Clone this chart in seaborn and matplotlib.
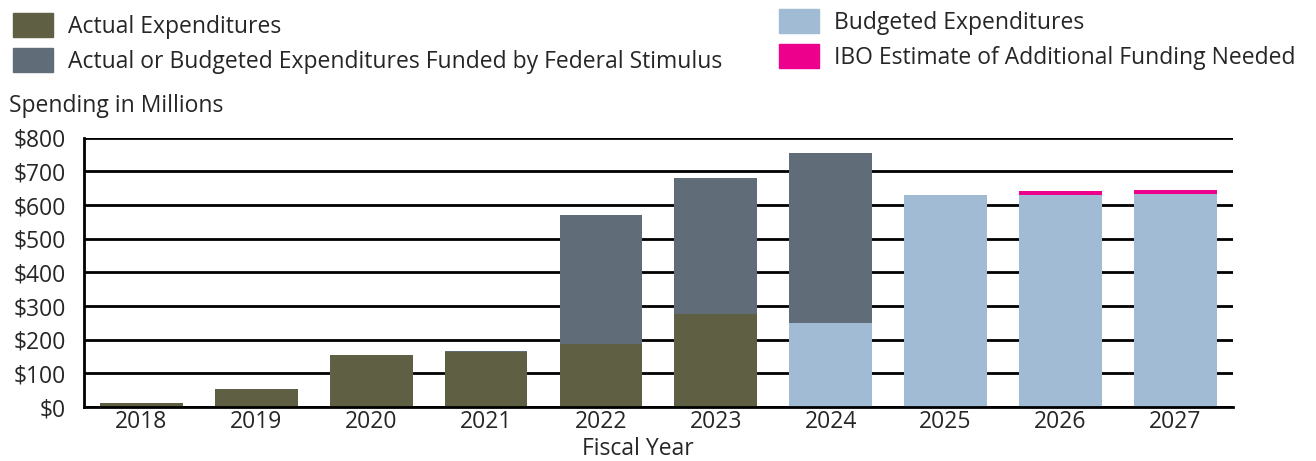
import pandas as pd
import matplotlib.pyplot as plt
import seaborn as sns
from matplotlib.patches import Patch
from matplotlib.ticker import FixedLocator, FuncFormatter

# Values (millions of dollars)
years = ["2018", "2019", "2020", "2021", "2022", "2023", "2024", "2025", "2026", "2027"]
actual = [11, 55, 155, 165, 188, 278, 0, 0, 0, 0]
budgeted = [0, 0, 0, 0, 0, 0, 249, 629, 631, 634]
stimulus = [0, 0, 0, 3, 383, 404, 505, 0, 0, 0]
ibo_extra = [0, 0, 0, 0, 0, 0, 0, 0, 10, 10]

# Colours
c_actual = "#5f5f44"
c_stim = "#606d78"
c_budget = "#a2bbd4"
c_ibo = "#ec008c"

df = pd.DataFrame({"year": years, "actual": actual, "budgeted": budgeted,
                   "stimulus": stimulus, "ibo": ibo_extra})
df["base"] = df["actual"] + df["budgeted"]
df["with_stim"] = df["base"] + df["stimulus"]
df["total"] = df["with_stim"] + df["ibo"]

sns.set_style("white")
plt.rcParams["font.family"] = ["Open Sans", "DejaVu Sans"]
fs = 16.5

fig = plt.figure(figsize=(13.16, 4.61), dpi=100)
ax = fig.add_axes([0.0638, 0.117, 0.873, 0.584])

bw = 0.72
# draw stacked layers tallest first so each lower layer covers the one above
sns.barplot(data=df, x="year", y="total", color=c_ibo, width=bw, saturation=1, ax=ax, zorder=3)
sns.barplot(data=df, x="year", y="with_stim", color=c_stim, width=bw, saturation=1, ax=ax, zorder=3)
sns.barplot(data=df, x="year", y="base", color=c_budget, width=bw, saturation=1, ax=ax, zorder=3)
sns.barplot(data=df, x="year", y="actual", color=c_actual, width=bw, saturation=1, ax=ax, zorder=3)
for p in ax.patches:
    p.set_linewidth(0)

ax.set_xlim(-0.5, len(years) - 0.5)
ax.set_ylim(0, 800)
ax.set_yticks(range(0, 801, 100))
ax.yaxis.set_major_formatter(FuncFormatter(lambda v, _: f"${int(v)}"))
ax.grid(axis="y", color="black", linewidth=2, zorder=0)
ax.set_axisbelow(True)

for s in ["top", "right"]:
    ax.spines[s].set_visible(False)
for s in ["left", "bottom"]:
    ax.spines[s].set_color("black")
    ax.spines[s].set_linewidth(2)
    ax.spines[s].set_zorder(4)

ax.tick_params(axis="y", length=0, labelsize=fs, pad=13)
ax.tick_params(axis="x", which="major", length=0, labelsize=fs, pad=2)
ax.xaxis.set_minor_locator(FixedLocator([i - 0.5 for i in range(len(years) + 1)]))
ax.tick_params(axis="x", which="minor", length=7, width=2, color="black", direction="out")

ax.set_xlabel("Fiscal Year", fontsize=fs, labelpad=0)
ax.xaxis.set_label_coords(0.482, -0.112)
ax.set_ylabel("")

fig.text(0.007, 0.77, "Spending in Millions", fontsize=fs, va="center", ha="left")

h_left = [Patch(color=c_actual, label="Actual Expenditures"),
          Patch(color=c_stim, label="Actual or Budgeted Expenditures Funded by Federal Stimulus")]
h_right = [Patch(color=c_budget, label="Budgeted Expenditures"),
           Patch(color=c_ibo, label="IBO Estimate of Additional Funding Needed")]
leg_kw = dict(frameon=False, fontsize=fs, handlelength=1.75, handleheight=1.25,
              handletextpad=0.65, labelspacing=0.4, borderpad=0, borderaxespad=0)
fig.legend(handles=h_left, loc="upper left", bbox_to_anchor=(0.01, 0.972), **leg_kw)
fig.legend(handles=h_right, loc="upper left", bbox_to_anchor=(0.592, 0.98), **leg_kw)

fig.savefig("out.png", dpi=100)
